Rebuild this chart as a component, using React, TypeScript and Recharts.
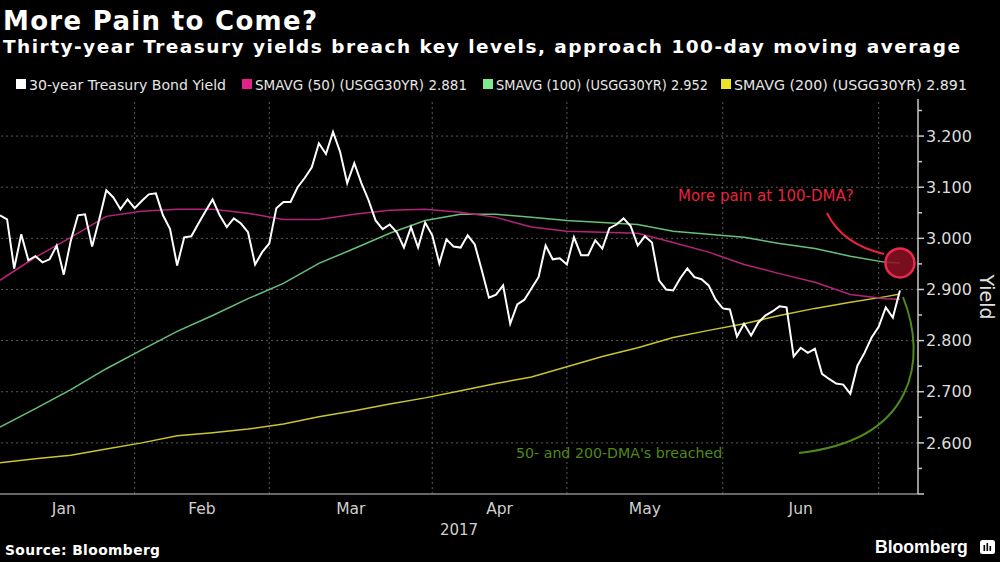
import React from 'react';
import {
  LineChart,
  Line,
  XAxis,
  YAxis,
  ReferenceLine,
  ReferenceDot,
  Label,
} from 'recharts';

// trading-day index 0..127 (early Jan 2017 -> early Jul 2017)
const yield30 = [
  3.045, 3.037, 2.941, 3.008, 2.957, 2.965, 2.953, 2.959, 2.986, 2.929,
  2.996, 3.045, 3.047, 2.984, 3.037, 3.094, 3.08, 3.057, 3.076, 3.059,
  3.073, 3.086, 3.088, 3.045, 3.018, 2.947, 3.002, 3.004, 3.029, 3.053,
  3.076, 3.045, 3.022, 3.039, 3.029, 3.012, 2.949, 2.973, 2.99, 3.059,
  3.071, 3.071, 3.1, 3.118, 3.139, 3.186, 3.165, 3.208, 3.169, 3.108,
  3.147, 3.108, 3.075, 3.035, 3.018, 3.027, 3.012, 2.982, 3.022, 2.982,
  3.031, 3.006, 2.951, 2.998, 2.984, 2.982, 3.006, 2.988, 2.937, 2.884,
  2.89, 2.908, 2.833, 2.871, 2.88, 2.902, 2.924, 2.986, 2.959, 2.961,
  2.949, 3.002, 2.967, 2.967, 2.996, 2.98, 3.02, 3.027, 3.039, 3.024,
  2.986, 3.004, 2.992, 2.918, 2.9, 2.898, 2.922, 2.941, 2.924, 2.92,
  2.908, 2.88, 2.863, 2.861, 2.808, 2.833, 2.81, 2.835, 2.849, 2.857,
  2.867, 2.865, 2.769, 2.786, 2.776, 2.784, 2.735, 2.725, 2.716, 2.714,
  2.696, 2.751, 2.776, 2.806, 2.827, 2.865, 2.845, 2.898,
];

// moving averages, read every 5 trading days
const smaDays = [0, 5, 10, 15, 20, 25, 30, 35, 40, 45, 50, 55, 60, 65, 70, 75, 80, 85, 90, 95, 100, 105, 110, 115, 120, 125, 127];
const sma50 = [2.918, 2.963, 3.002, 3.043, 3.053, 3.057, 3.057, 3.049, 3.037, 3.037, 3.047, 3.055, 3.057, 3.051, 3.041, 3.022, 3.014, 3.012, 3.01, 2.992, 2.973, 2.949, 2.931, 2.914, 2.89, 2.882, 2.881];
const sma100 = [2.631, 2.667, 2.704, 2.745, 2.782, 2.818, 2.849, 2.882, 2.912, 2.951, 2.98, 3.01, 3.035, 3.047, 3.047, 3.041, 3.035, 3.031, 3.027, 3.014, 3.008, 3.002, 2.99, 2.98, 2.965, 2.953, 2.952];
const sma200 = [2.561, 2.569, 2.576, 2.588, 2.6, 2.614, 2.62, 2.627, 2.637, 2.651, 2.663, 2.676, 2.688, 2.702, 2.716, 2.729, 2.749, 2.769, 2.786, 2.806, 2.82, 2.833, 2.849, 2.863, 2.875, 2.886, 2.891];

const monthNames = ['Jan', 'Feb', 'Mar', 'Apr', 'May', 'Jun'];
const monthMid = [9, 28.5, 49.5, 70.5, 91, 113];
const monthStart = [19, 38, 61, 80, 102, 124];

const yTicks = [2.5, 2.55, 2.6, 2.65, 2.7, 2.75, 2.8, 2.85, 2.9, 2.95, 3.0, 3.05, 3.1, 3.15, 3.2, 3.25];
const gridYields = [2.6, 2.7, 2.8, 2.9, 3.0, 3.1, 3.2];

const legendItems = [
  { name: '30-year Treasury Bond Yield', color: '#ffffff', x: 16, w: 197 },
  { name: 'SMAVG (50) (USGG30YR) 2.881', color: '#e3218c', x: 242, w: 212 },
  { name: 'SMAVG (100) (USGG30YR) 2.952', color: '#7eea90', x: 483, w: 212 },
  { name: 'SMAVG (200) (USGG30YR) 2.891', color: '#ece22a', x: 721, w: 233 },
];

const FONT = "'DejaVu Sans', Verdana, sans-serif";

const yieldData = yield30.map((v, i) => ({ i, v }));
const toSeries = (vals: number[]) => vals.map((v, k) => ({ i: smaDays[k], v }));

function YTick(props: any) {
  const { x, y, payload } = props;
  const v = payload.value as number;
  const major = Math.abs(v * 10 - Math.round(v * 10)) < 1e-6;
  return (
    <g>
      <line x1={x} x2={x + (major ? 6 : 4)} y1={y} y2={y} stroke="#c8c8c8" strokeWidth={1.5} />
      {major && v >= 2.6 ? (
        <text x={x + 8} y={y} dy="0.36em" fill="#dcdcdc" fontSize={16} fontFamily={FONT}>
          {v.toFixed(3)}
        </text>
      ) : null}
    </g>
  );
}

export default function App() {
  const last = smaDays.length - 1;
  return (
    <div style={{ position: 'fixed', left: 0, top: 0, width: 1000, height: 562, background: '#000', overflow: 'hidden' }}>
      <LineChart
        width={1000}
        height={562}
        margin={{ top: 99, right: 0, left: 0, bottom: 0 }}
        style={{ position: 'absolute', left: 0, top: 0 }}
      >
        <XAxis
          xAxisId="d"
          dataKey="i"
          type="number"
          domain={[0, 129.55]}
          allowDataOverflow
          ticks={monthMid}
          tickFormatter={(_v: number, idx: number) => monthNames[idx]}
          tickLine={false}
          tickSize={0}
          tickMargin={9}
          height={68}
          axisLine={{ stroke: '#8a8a8a', strokeWidth: 1.5 }}
          tick={{ fill: '#cfcfcf', fontSize: 15.5, fontFamily: FONT }}
          interval={0}
        >
          <Label value="2017" position="insideBottom" offset={27} fill="#cfcfcf" fontSize={15} fontFamily={FONT} />
        </XAxis>
        <YAxis
          yAxisId="y"
          orientation="right"
          type="number"
          domain={[2.5, 3.2725]}
          allowDataOverflow
          ticks={yTicks}
          interval={0}
          width={82}
          tickSize={0}
          tickMargin={0}
          tickLine={false}
          axisLine={{ stroke: '#c8c8c8', strokeWidth: 1.5 }}
          tick={(p: any) => <YTick {...p} />}
        />
        {gridYields.map((g) => (
          <ReferenceLine key={'h' + g} xAxisId="d" yAxisId="y" y={g} stroke="#5a5a5a" strokeDasharray="2 3" />
        ))}
        {monthStart.map((m) => (
          <ReferenceLine key={'v' + m} xAxisId="d" yAxisId="y" x={m} stroke="#5a5a5a" strokeDasharray="2 3" />
        ))}
        <Line xAxisId="d" yAxisId="y" data={toSeries(sma200)} dataKey="v" stroke="#c9c530" strokeWidth={1.5} dot={false} isAnimationActive={false} />
        <Line xAxisId="d" yAxisId="y" data={toSeries(sma100)} dataKey="v" stroke="#67c079" strokeWidth={1.5} dot={false} isAnimationActive={false} />
        <Line xAxisId="d" yAxisId="y" data={toSeries(sma50)} dataKey="v" stroke="#b8237a" strokeWidth={1.5} dot={false} isAnimationActive={false} />
        <Line xAxisId="d" yAxisId="y" data={yieldData} dataKey="v" stroke="#ffffff" strokeWidth={2} dot={false} isAnimationActive={false} />
        <ReferenceDot
          xAxisId="d"
          yAxisId="y"
          x={smaDays[last]}
          y={sma100[last]}
          r={14.5}
          fill="#8e1024"
          fillOpacity={0.85}
          stroke="#e8294d"
          strokeWidth={2.5}
        />
      </LineChart>

      <svg width={1000} height={562} style={{ position: 'absolute', left: 0, top: 0, pointerEvents: 'none' }} fontFamily={FONT}>
        <text x={3} y={30} fill="#fff" fontSize={26} fontWeight="bold" textLength={314} lengthAdjust="spacing">
          More Pain to Come?
        </text>
        <text x={3} y={53} fill="#fff" fontSize={18.5} fontWeight="bold" textLength={957} lengthAdjust="spacing">
          Thirty-year Treasury yields breach key levels, approach 100-day moving average
        </text>

        {legendItems.map((it) => (
          <g key={it.name}>
            <rect x={it.x} y={79} width={10} height={10} fill={it.color} />
            <text x={it.x + 13} y={89.5} fill="#e6e6e6" fontSize={13.6} textLength={it.w} lengthAdjust="spacingAndGlyphs">
              {it.name}
            </text>
          </g>
        ))}

        <text transform="translate(987,297) rotate(90)" textAnchor="middle" dominantBaseline="central" fill="#e0e0e0" fontSize={19}>
          Yield
        </text>

        <text x={678} y={201} fill="#e8223f" fontSize={15}>More pain at 100-DMA?</text>
        <path d="M827,213 Q842,244 884,254" fill="none" stroke="#e8223f" strokeWidth={2} />

        <text x={516} y={458} fill="#4f8a1a" fontSize={14.2}>50- and 200-DMA's breached</text>
        <path d="M903,297 C928,360 915,440 799,453" fill="none" stroke="#4f8a1a" strokeWidth={2} />

        <text x={5} y={555} fill="#fff" fontSize={13.8} fontWeight="bold" textLength={155} lengthAdjust="spacing">
          Source: Bloomberg
        </text>
        <text x={875} y={553} fill="#fff" fontSize={17.6} fontWeight="bold" fontFamily="'Liberation Sans', Arial, sans-serif">
          Bloomberg
        </text>
        <rect x={980} y={540} width={15} height={14} rx={2.5} fill="#fff" />
        <rect x={983.5} y={545} width={1.6} height={6} fill="#000" />
        <rect x={986.5} y={543} width={1.6} height={8} fill="#000" />
        <rect x={989.5} y={546} width={1.6} height={5} fill="#000" />
      </svg>
    </div>
  );
}
